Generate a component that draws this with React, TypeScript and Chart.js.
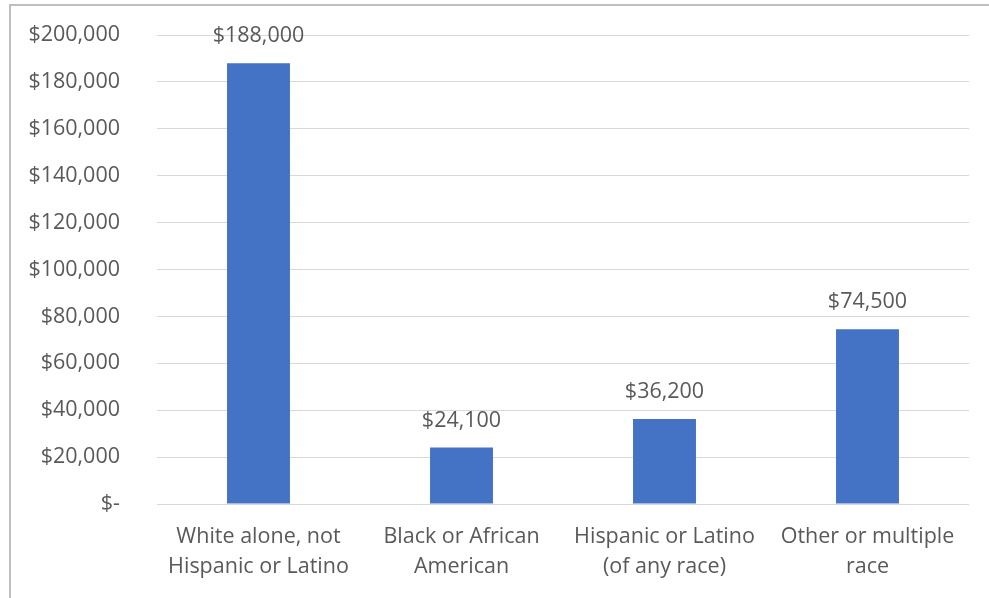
import React, { useEffect, useRef } from "react";
import { Chart, registerables } from "chart.js";

Chart.register(...registerables);

const categories: string[][] = [
  ["White alone, not", "Hispanic or Latino"],
  ["Black or African", "American"],
  ["Hispanic or Latino", "(of any race)"],
  ["Other or multiple", "race"],
];
const values: number[] = [188000, 24100, 36200, 74500];
const dataLabels: string[] = ["$188,000", "$24,100", "$36,200", "$74,500"];

const FONT = "'Open Sans', 'Noto Sans', sans-serif";
const TEXT = "#595959";
const FS = 21.5;

function fmtTick(v: number): string {
  if (v === 0) return "$-";
  return "$" + v.toLocaleString("en-US");
}

const labelPlugin = {
  id: "barValueLabels",
  afterDatasetsDraw(chart: any) {
    const ctx = chart.ctx;
    const meta = chart.getDatasetMeta(0);
    ctx.save();
    ctx.fillStyle = TEXT;
    ctx.font = `${FS}px ${FONT}`;
    ctx.textAlign = "center";
    ctx.textBaseline = "middle";
    meta.data.forEach((el: any, i: number) => {
      ctx.fillText(dataLabels[i], el.x, el.y - 27);
    });
    ctx.restore();
  },
};

export default function App() {
  const ref = useRef<HTMLCanvasElement | null>(null);
  useEffect(() => {
    if (!ref.current) return;
    const chart = new Chart(ref.current, {
      type: "bar",
      data: {
        labels: categories,
        datasets: [
          {
            data: values,
            backgroundColor: "#4472C4",
            borderWidth: 0,
            categoryPercentage: 1,
            barPercentage: 0.31,
          },
        ],
      },
      options: {
        animation: false,
        responsive: false,
        maintainAspectRatio: false,
        layout: { padding: { top: 35, right: 20, bottom: 0, left: 0 } },
        plugins: {
          legend: { display: false },
          tooltip: { enabled: false },
        },
        scales: {
          x: {
            grid: { display: false, drawTicks: false },
            border: { display: false },
            ticks: {
              color: TEXT,
              font: { family: FONT, size: FS, lineHeight: "30px" as any },
              padding: 18,
              maxRotation: 0,
              autoSkip: false,
            },
            afterFit(scale: any) {
              scale.height = 94;
              scale.paddingTop = 0;
              scale.paddingBottom = 0;
              scale.paddingLeft = 0;
              scale.paddingRight = 0;
            },
          },
          y: {
            min: 0,
            max: 200000,
            grid: { color: "#d9d9d9", lineWidth: 1, drawTicks: false },
            border: { display: false },
            ticks: {
              stepSize: 20000,
              color: TEXT,
              font: { family: FONT, size: FS },
              padding: 37,
              callback: (v: any) => fmtTick(Number(v)),
            },
            afterFit(scale: any) {
              scale.width = 157;
              scale.paddingTop = 0;
              scale.paddingBottom = 0;
              scale.paddingLeft = 0;
              scale.paddingRight = 0;
            },
          },
        },
      },
      plugins: [labelPlugin],
    });
    return () => chart.destroy();
  }, []);

  return (
    <div style={{ position: "absolute", left: 0, top: 0, width: 989, height: 598, background: "#fff", overflow: "hidden" }}>
      <div
        style={{
          position: "absolute",
          left: 9,
          top: 4,
          width: 990,
          height: 610,
          borderLeft: "2px solid #bfbfbf",
          borderTop: "2px solid #bfbfbf",
          boxSizing: "border-box",
        }}
      />
      <canvas ref={ref} width={989} height={598} style={{ position: "absolute", left: 0, top: 0, width: 989, height: 598 }} />
    </div>
  );
}
